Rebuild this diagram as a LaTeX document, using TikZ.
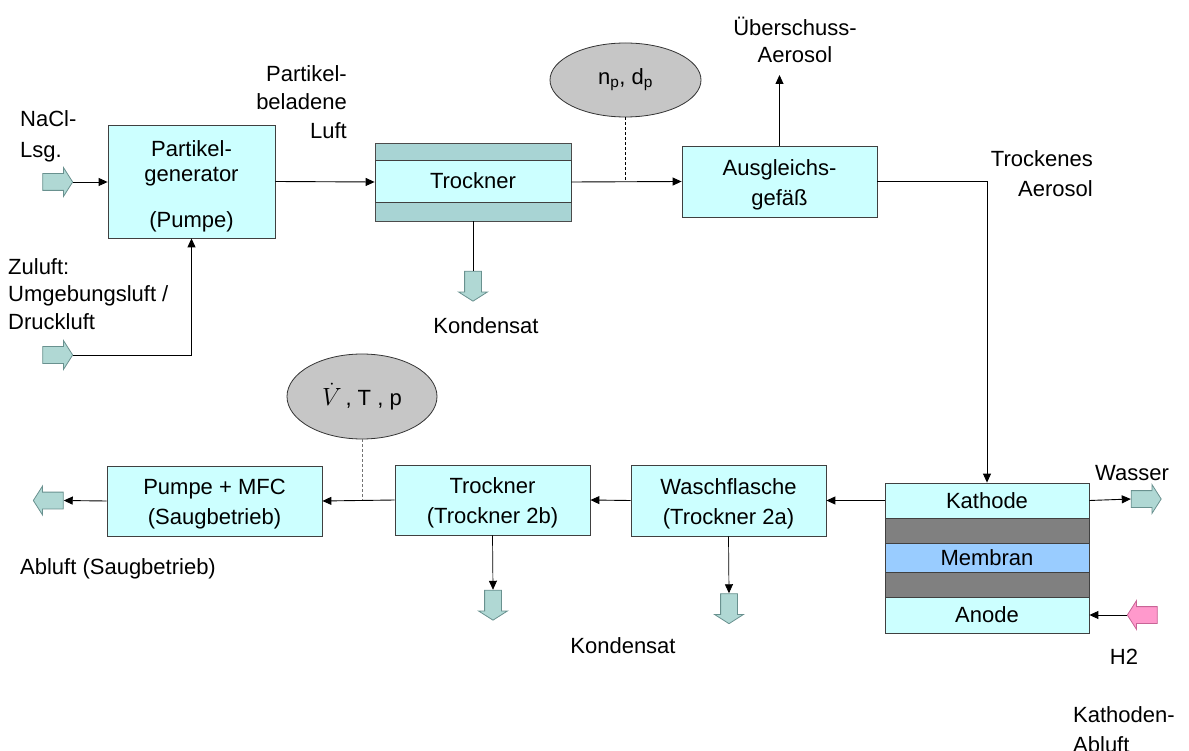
\documentclass[tikz,border=0pt]{standalone}
\usepackage{fontspec}
\setmainfont{Liberation Sans}
\usetikzlibrary{arrows.meta,shapes.geometric,shapes.arrows}
\definecolor{boxfill}{RGB}{204,255,255}
\definecolor{tealfill}{RGB}{168,212,212}
\definecolor{barrow}{RGB}{176,216,212}
\definecolor{barrowline}{RGB}{105,145,143}
\definecolor{layergray}{RGB}{128,128,128}
\definecolor{membranfill}{RGB}{153,204,255}
\definecolor{ellfill}{RGB}{198,198,198}
\definecolor{pinkfill}{RGB}{255,153,204}
\definecolor{pinkline}{RGB}{200,100,150}
\begin{document}
\begin{tikzpicture}[x=1pt,y=-1pt,
  font=\fontsize{22}{30}\selectfont,
  box/.style={draw=black!75, fill=boxfill, line width=0.8pt, inner sep=0pt, align=center},
  layer/.style={draw=black!75, line width=0.8pt, inner sep=0pt, minimum width=204pt},
  blk/.style={single arrow, draw=barrowline, fill=barrow, line width=0.8pt,
    inner sep=8pt, single arrow head extend=6pt, single arrow tip angle=115,
    minimum height=30pt},
  flow/.style={line width=0.9pt, -{Triangle[length=9pt,width=8pt]}},
  thinflow/.style={line width=0.7pt, -{Triangle[length=9pt,width=8pt]}},
  plain/.style={line width=0.9pt},
  meas/.style={ellipse, draw=black!80, fill=ellfill, line width=0.8pt, inner sep=0pt},
  lbl/.style={inner sep=0pt},
]
\useasboundingbox (0,0) rectangle (1189,751);

% --- top row ---
\node[box, minimum width=167pt, minimum height=113pt] (gen) at (191.5,181.5) {};
\node[lbl, align=center, font=\fontsize{22}{25}\selectfont] (gentxt) at ([yshift=-5pt]gen.center)
      {Partikel-\\generator\\[21pt](Pumpe)};
\node[draw=black!70, fill=tealfill, line width=0.8pt, inner sep=0pt,
      minimum width=196pt, minimum height=78pt] (trock) at (473,182) {};
\node[box, minimum width=196pt, minimum height=42pt] (trockin) at (473,181) {Trockner};
\node[meas, minimum width=151pt, minimum height=74pt] (np) at (625.5,80)
      {n\textsubscript{p}, d\textsubscript{p}};
\node[box, minimum width=195pt, minimum height=71pt] (ausg) at (779.5,181.5) {};
\node[lbl, align=center] (ausgtxt) at ([yshift=-3pt]ausg.center) {Ausgleichs-\\gefäß};
\coordinate (ueb) at (779.5,75);

% --- fuel cell ---
\node[layer, fill=boxfill, minimum height=35pt] (kath) at (987,500.5) {Kathode};
\node[layer, fill=layergray, minimum height=25pt] (g1) at (987,530.5) {};
\node[layer, fill=membranfill, minimum height=29pt] (mem) at (987,557.5) {Membran};
\node[layer, fill=layergray, minimum height=25pt] (g2) at (987,584.5) {};
\node[layer, fill=boxfill, minimum height=36pt] (anode) at (987,615) {Anode};
\node[draw=black!75, line width=0.8pt, inner sep=0pt, minimum width=204pt,
      minimum height=150pt] (fc) at (987,558) {};

% --- bottom row ---
\node[box, minimum width=195pt, minimum height=71pt] (wasch) at (728.5,500.5) {};
\node[lbl, align=center] (waschtxt) at ([yshift=-3pt]wasch.center) {Waschflasche\\(Trockner 2a)};
\node[box, minimum width=195pt, minimum height=70pt] (t2b) at (492.5,500) {};
\node[lbl, align=center] (t2btxt) at ([yshift=-3pt]t2b.center) {Trockner\\(Trockner 2b)};
\node[box, minimum width=215pt, minimum height=70pt] (pump) at (214.5,501) {};
\node[lbl, align=center] (pumptxt) at ([yshift=-3pt]pump.center) {Pumpe + MFC\\(Saugbetrieb)};
\node[meas, minimum width=150pt, minimum height=85pt] (vtp) at (362,396.5)
      {{\fontsize{26}{30}\selectfont$\dot{V}$}\,, T , p};

% --- block arrows ---
\node[blk] (nacl) at (55,182) {};
\node[blk] (zul) at (55,355) {};
\node[blk, shape border rotate=270] (kond1) at (473,283.5) {};
\node[blk, shape border rotate=270] (kond2) at (493,602.5) {};
\node[blk, shape border rotate=270] (kond3) at (729,606) {};
\node[blk, shape border rotate=180] (abl) at (51,500.5) {};
\node[blk] (wass) at (1143.5,499) {};
\node[blk, shape border rotate=180, draw=pinkline, fill=pinkfill] (h2) at (1145,615) {};

% --- connectors ---
\draw[flow] (nacl.tip) -- (nacl.tip -| gen.west);
\draw[flow] (zul.tip) -| (gen.south);
\draw[flow] (gen.east) -- (trock.west);
\draw[flow] (trock.east) -- (ausg.west);
\draw[line width=0.7pt, dash pattern=on 3pt off 2pt] (np.south) -- (np.south |- ausg.west);
\draw[flow] (ausg.north) -- (ueb);
\draw[flow] (ausg.east) -| (kath.north);
\draw[plain] (trock.south) -- (kond1.tail);
\draw[flow] (kath.west) -- (wasch.east);
\draw[flow] (wasch.west) -- (t2b.east);
\draw[flow] (t2b.west) -- (pump.east);
\draw[line width=0.7pt, black!55, dash pattern=on 3pt off 2pt] (vtp.south) -- (vtp.south |- t2b.west);
\draw[flow] (pump.west) -- (abl.tail);
\draw[thinflow] (t2b.south) -- (kond2.tail);
\draw[thinflow] (wasch.south) -- (kond3.tail);
\draw[flow] (kath.east) -- (wass.tail);
\draw[flow] (h2.tip) -- (anode.east);

% --- labels ---
\node[lbl, anchor=north west, align=left, font=\fontsize{22}{31}\selectfont] (tnacl) at (20,110) {NaCl-\\Lsg.};
\node[lbl, anchor=north west, align=left, font=\fontsize{22}{27.5}\selectfont] (tzul) at (8,258) {Zuluft:\\Umgebungsluft /\\Druckluft};
\node[lbl, anchor=north east, align=right, font=\fontsize{22}{28.5}\selectfont] (tpart) at (347,65) {Partikel-\\beladene\\Luft};
\node[lbl] (tkond1) at (486,326) {Kondensat};
\node[lbl, anchor=north, align=center, font=\fontsize{22}{27}\selectfont] (tueb) at (795,17) {Überschuss-\\Aerosol};
\node[lbl, anchor=north east, align=right, font=\fontsize{22}{30}\selectfont] (ttrae) at (1093,150) {Trockenes\\Aerosol};
\node[lbl, anchor=north] (twass) at (1132,465) {Wasser};
\node[lbl] (th2) at (1124,657) {H2};
\node[lbl, anchor=north west, align=left, font=\fontsize{22}{30}\selectfont] (tkab) at (1073,706) {Kathoden-\\Abluft};
\node[lbl, anchor=north west] (tabl) at (20,558) {Abluft (Saugbetrieb)};
\node[lbl] (tkond2) at (623,646) {Kondensat};
\end{tikzpicture}
\end{document}
